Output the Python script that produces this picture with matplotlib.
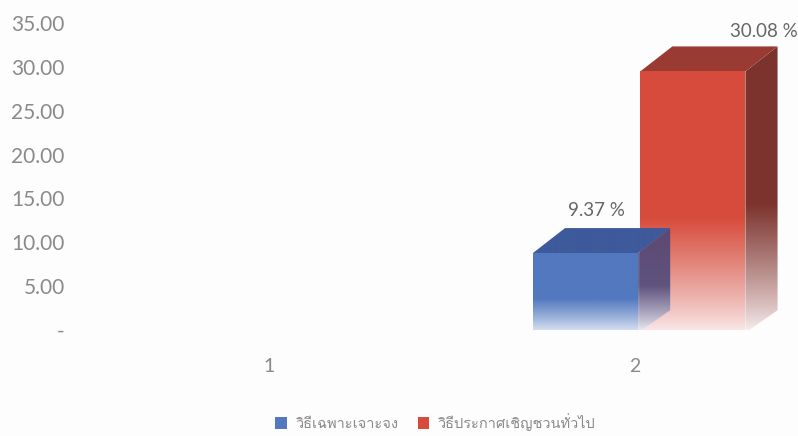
import numpy as np
import matplotlib
matplotlib.use("Agg")
import matplotlib.pyplot as plt
from matplotlib import font_manager
from matplotlib.ft2font import FT2Font
from matplotlib.patches import Polygon, Patch
from matplotlib.colors import to_rgb

categories = ["1", "2"]
series_names = ["วิธีเฉพาะเจาะจง", "วิธีประกาศเชิญชวนทั่วไป"]
# category 1 has no bars
values = {
    "วิธีเฉพาะเจาะจง": [None, 9.37],
    "วิธีประกาศเชิญชวนทั่วไป": [None, 30.08],
}
yticks = [0, 5, 10, 15, 20, 25, 30, 35]

front_colors = ["#5278bf", "#d64b3b"]
top_colors = ["#3e5a9b", "#9a3b33"]
side_colors = ["#46457a", "#7c332d"]
fade_colors = ["#f3f6fc", "#fbf2f3"]
side_alpha = [0.85, 1.0]
label_offsets = [(-5, 9), (55, 6)]  # pixels, from top-face centre


def thai_family():
    for f in font_manager.fontManager.ttflist:
        try:
            if FT2Font(f.fname).get_char_index(ord("ว")):
                return f.name
        except Exception:
            pass
    return "DejaVu Sans"


THAI = thai_family()
plt.rcParams["font.family"] = ["Lato", "DejaVu Sans"]

BAR_W = 0.288
GAP = 0.006
SHIFT = 0.012
DX, DY = 0.088, 2.85
DROP = 0.6


def shade(ax, verts, base, fade, alpha=1.0, solid=False):
    poly = Polygon(verts, closed=True, facecolor="none", edgecolor="none")
    ax.add_patch(poly)
    xs = [v[0] for v in verts]
    ys = [v[1] for v in verts]
    n = 200
    t = np.linspace(0, 1, n)
    if solid:
        w = np.ones(n)
    else:
        w = np.clip(t / 0.45, 0, 1) ** 0.85
    b = np.array(to_rgb(base))
    f = np.array(to_rgb(fade))
    rgb = f[None, :] * (1 - w[:, None]) + b[None, :] * w[:, None]
    img = np.concatenate([rgb, np.full((n, 1), alpha)], axis=1)[:, None, :]
    im = ax.imshow(img, extent=(min(xs), max(xs), min(ys), max(ys)),
                   origin="lower", aspect="auto", interpolation="bilinear",
                   zorder=2)
    im.set_clip_path(poly)


def bar3d(ax, x0, v, i):
    x1 = x0 + BAR_W
    y0, y1 = -DROP, v - DROP
    shade(ax, [(x0, y0), (x1, y0), (x1, y1), (x0, y1)],
          front_colors[i], fade_colors[i])
    shade(ax, [(x1, y0 + 0.3), (x1 + DX, y0 + DY), (x1 + DX, y1 + DY), (x1, y1)],
          side_colors[i], fade_colors[i], alpha=side_alpha[i])
    shade(ax, [(x0, y1), (x0 + DX, y1 + DY), (x1 + DX, y1 + DY), (x1, y1)],
          top_colors[i], fade_colors[i], solid=True)
    ax.annotate(f"{v:.2f} %", (x0 + (BAR_W + DX) / 2, y1 + DY),
                xytext=label_offsets[i], textcoords="offset pixels",
                ha="center", va="bottom", fontsize=13.5, color="#666666",
                annotation_clip=False)


fig = plt.figure(figsize=(7.98, 4.36), dpi=100)
fig.patch.set_facecolor("#fdfdfd")
ax = fig.add_axes([87 / 798, (436 - 330) / 436, (798 - 87) / 798, (330 - 23) / 436])
ax.set_facecolor("none")

xpos = np.arange(1, len(categories) + 1)
# draw right-hand series first so the left one's side face sits over it
for i in reversed(range(len(series_names))):
    vals = values[series_names[i]]
    for c, v in enumerate(vals):
        if v is None:
            continue
        if i == 0:
            x0 = xpos[c] + SHIFT - GAP / 2 - BAR_W
        else:
            x0 = xpos[c] + SHIFT + GAP / 2
        bar3d(ax, x0, v, i)

ax.set_xlim(0.5, 2.447)
ax.set_ylim(0, 35)
ax.set_yticks(yticks)
ax.set_yticklabels(["-" if t == 0 else f"{t:.2f}" for t in yticks])
ax.set_xticks(xpos)
ax.set_xticklabels(categories)
for s in ax.spines.values():
    s.set_visible(False)
ax.tick_params(axis="y", length=0, pad=16, labelsize=15, labelcolor="#8a8a8a")
ax.tick_params(axis="x", length=0, pad=20, labelsize=14, labelcolor="#8a8a8a")

handles = [Patch(facecolor=front_colors[i], edgecolor="none") for i in range(2)]
fig.legend(handles, series_names, loc="center", bbox_to_anchor=(0.546, 0.032),
           ncol=2, frameon=False, handlelength=0.8, handleheight=0.8,
           handletextpad=0.6, columnspacing=1.3,
           prop={"family": [THAI, "DejaVu Sans"], "size": 10.5})
for t in fig.legends[0].get_texts():
    t.set_color("#8a8a8a")

fig.savefig("out.png", dpi=100, facecolor=fig.get_facecolor())
